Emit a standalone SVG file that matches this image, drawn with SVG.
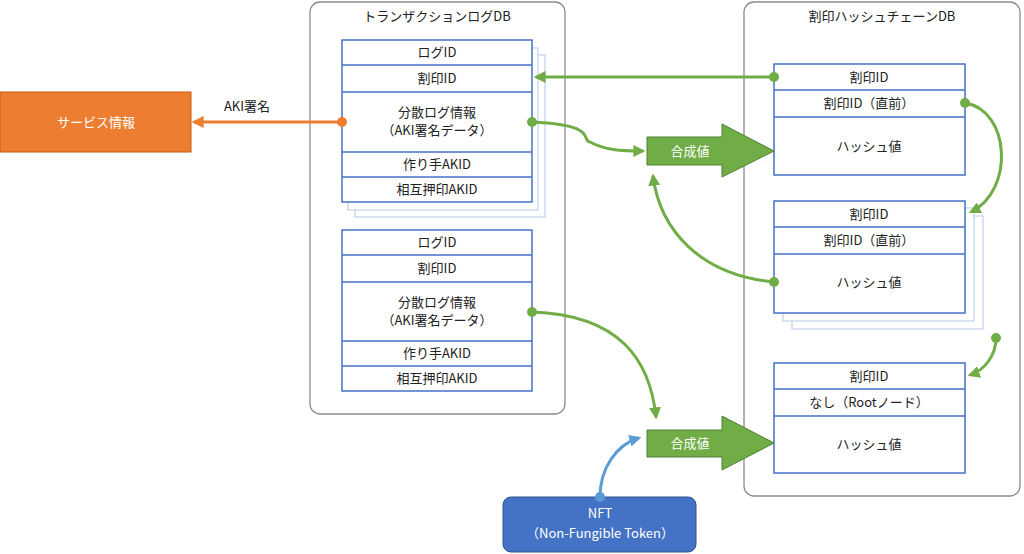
<svg xmlns="http://www.w3.org/2000/svg" width="1024" height="554" viewBox="0 0 1024 554">
<style>
text{font-family:"Noto Sans CJK JP","Noto Sans",sans-serif;font-size:13px;fill:#222;text-anchor:middle}
.c{fill:#fff;stroke:#8c8c8c;stroke-width:1.3}
.r{fill:#fff;stroke:#4472C4;stroke-width:1.5}
.s{fill:#fff;stroke:#c5d4ee;stroke-width:1.3}
.g{fill:none;stroke:#70AD47;stroke-width:3}
.w{fill:#fff}
.ba{fill:#70AD47;stroke:#507e32;stroke-width:1}
</style>
<defs>
<marker id="ag" viewBox="0 0 10 10" refX="8" refY="5" markerWidth="4" markerHeight="4" orient="auto"><path d="M0,0L10,5L0,10z" fill="#70AD47"/></marker>
<marker id="ao" viewBox="0 0 10 10" refX="8" refY="5" markerWidth="4" markerHeight="4" orient="auto"><path d="M0,0L10,5L0,10z" fill="#ED7D31"/></marker>
<marker id="ab" viewBox="0 0 10 10" refX="8" refY="5" markerWidth="4" markerHeight="4" orient="auto"><path d="M0,0L10,5L0,10z" fill="#5B9BD5"/></marker>
</defs>
<g id="txdb"><rect class="c" x="310" y="2" width="255" height="412" rx="10"/><text x="437" y="21">トランザクションログDB</text></g>
<g id="hashdb"><rect class="c" x="744" y="2" width="276" height="494" rx="10"/><text x="882" y="21">割印ハッシュチェーンDB</text></g>
<g id="log1">
<rect class="s" x="355" y="55" width="190" height="162"/><rect class="s" x="348" y="48" width="190" height="162"/>
<rect class="r" x="342" y="40" width="190" height="162"/>
<line class="r" x1="342" y1="65" x2="532" y2="65"/><line class="r" x1="342" y1="92" x2="532" y2="92"/><line class="r" x1="342" y1="152" x2="532" y2="152"/><line class="r" x1="342" y1="177" x2="532" y2="177"/>
<text x="437" y="57">ログID</text><text x="437" y="83">割印ID</text><text x="437" y="117">分散ログ情報</text><text x="437" y="135">（AKI署名データ）</text><text x="437" y="169">作り手AKID</text><text x="437" y="194">相互押印AKID</text>
</g>
<g id="log2">
<rect class="r" x="342" y="230" width="190" height="161"/>
<line class="r" x1="342" y1="255" x2="532" y2="255"/><line class="r" x1="342" y1="282" x2="532" y2="282"/><line class="r" x1="342" y1="341" x2="532" y2="341"/><line class="r" x1="342" y1="366" x2="532" y2="366"/>
<text x="437" y="247">ログID</text><text x="437" y="273">割印ID</text><text x="437" y="307">分散ログ情報</text><text x="437" y="325">（AKI署名データ）</text><text x="437" y="358">作り手AKID</text><text x="437" y="383">相互押印AKID</text>
</g>
<g id="hashA">
<rect class="r" x="774" y="64" width="191" height="111"/>
<line class="r" x1="774" y1="90" x2="965" y2="90"/><line class="r" x1="774" y1="117" x2="965" y2="117"/>
<text x="869" y="82">割印ID</text><text x="869" y="108">割印ID（直前）</text><text x="869" y="151">ハッシュ値</text>
</g>
<g id="hashB">
<rect class="s" x="792" y="216" width="191" height="113"/><rect class="s" x="783" y="208" width="191" height="113"/>
<rect class="r" x="774" y="201" width="191" height="112"/>
<line class="r" x1="774" y1="227" x2="965" y2="227"/><line class="r" x1="774" y1="254" x2="965" y2="254"/>
<text x="869" y="219">割印ID</text><text x="869" y="245">割印ID（直前）</text><text x="869" y="287">ハッシュ値</text>
</g>
<g id="hashC">
<rect class="r" x="774" y="363" width="191" height="110"/>
<line class="r" x1="774" y1="389" x2="965" y2="389"/><line class="r" x1="774" y1="416" x2="965" y2="416"/>
<text x="869" y="381">割印ID</text><text x="869" y="407">なし（Rootノード）</text><text x="869" y="449">ハッシュ値</text>
</g>
<g id="service"><rect x="0" y="92" width="191" height="60" fill="#ED7D31" stroke="#c55a11"/><text class="w" x="96" y="127" style="fill:#fff">サービス情報</text></g>
<g id="sum1"><path class="ba" d="M647,137H722V124L774,151L722,177V165H647z"/><text x="690" y="156" style="fill:#fff">合成値</text></g>
<g id="sum2"><path class="ba" d="M647,430H722V416L774,443L722,470V457H647z"/><text x="690" y="448" style="fill:#fff">合成値</text></g>
<g id="nft"><rect x="503" y="497" width="193" height="55" rx="8" fill="#4472C4" stroke="#2f528f"/><text x="600" y="518" style="fill:#fff">NFT</text><text x="600" y="538" style="fill:#fff">（Non-Fungible Token）</text></g>
<g id="connectors">
<text x="247" y="111">AKI署名</text>
<path d="M342,122H194" fill="none" stroke="#ED7D31" stroke-width="3" marker-end="url(#ao)"/><circle cx="342" cy="122" r="5" fill="#ED7D31"/>
<path class="g" d="M774,77H536" marker-end="url(#ag)"/><circle cx="774" cy="77" r="5" fill="#70AD47"/>
<path class="g" d="M532,122C600,125 580,140 590,142C605,150 620,151 643,151" marker-end="url(#ag)"/><circle cx="532" cy="122" r="5" fill="#70AD47"/>
<path class="g" d="M965,103C1010,110 1015,190 971,212" marker-end="url(#ag)"/><circle cx="965" cy="103" r="5" fill="#70AD47"/>
<path class="g" d="M774,282C700,275 660,230 653,176" marker-end="url(#ag)"/><circle cx="774" cy="282" r="5" fill="#70AD47"/>
<path class="g" d="M996,338C996,355 985,370 970,375" marker-end="url(#ag)"/><circle cx="996" cy="338" r="5" fill="#70AD47"/>
<path class="g" d="M532,312C620,315 650,360 656,417" marker-end="url(#ag)"/><circle cx="532" cy="312" r="5" fill="#70AD47"/>
<path d="M600,497C600,470 615,445 639,438" fill="none" stroke="#5B9BD5" stroke-width="3" marker-end="url(#ab)"/><circle cx="600" cy="497" r="5" fill="#5B9BD5"/>
</g>
</svg>
